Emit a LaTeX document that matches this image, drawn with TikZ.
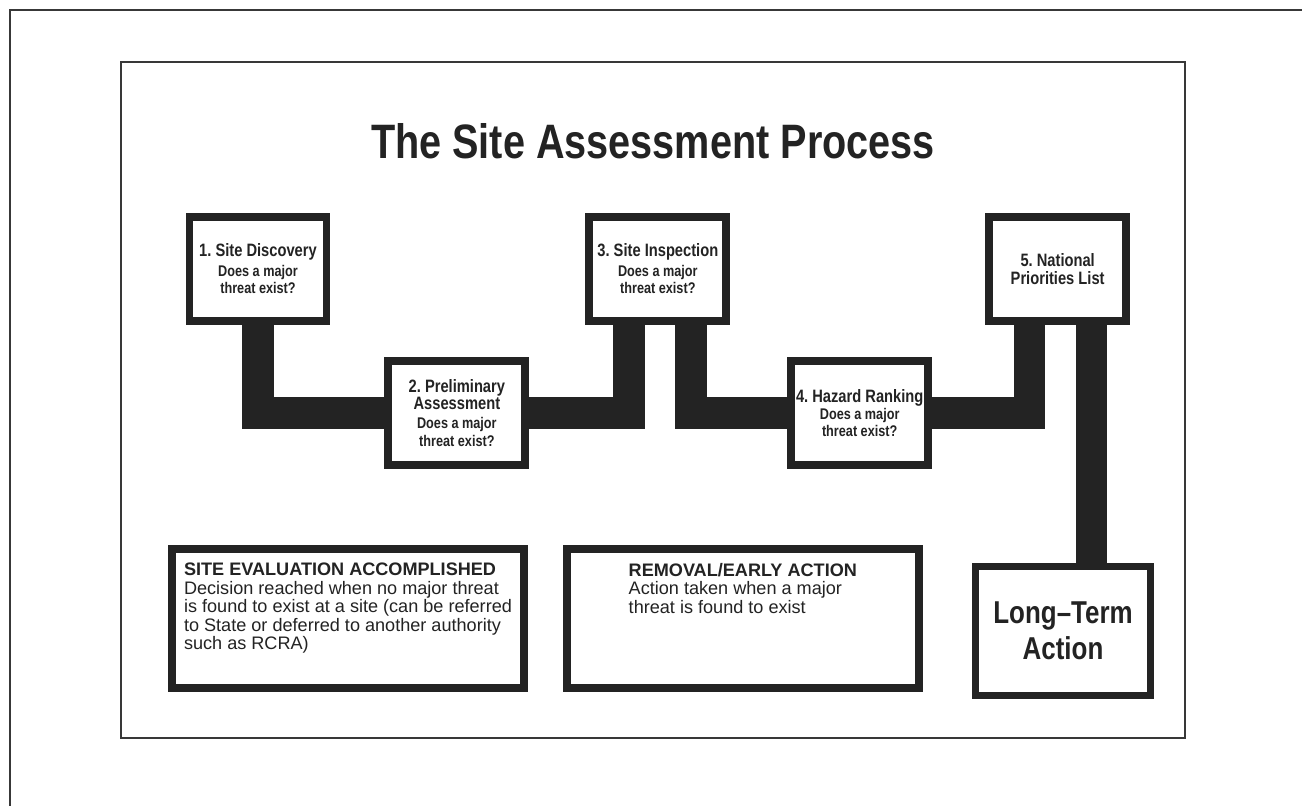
\documentclass[tikz,border=0pt]{standalone}
\usepackage{fontspec}
\setmainfont{Liberation Sans}
\newfontfamily\narrowfont[FakeStretch=0.82]{Liberation Sans}
\usepackage{xcolor}
\definecolor{ink}{HTML}{232323}
\definecolor{frame}{HTML}{383838}
\usetikzlibrary{positioning}

\newcommand\steptitle{\fontsize{10.2}{11}\selectfont}
\frenchspacing

\begin{document}
\begin{tikzpicture}[x=0.02cm, y=-0.02cm, node distance=1cm,
                stepbox/.style={rectangle, draw=ink, line width=4.5pt, fill=white, minimum width=2.74cm, minimum height=2.08cm, inner sep=1pt, align=center, text=ink, font=\narrowfont\bfseries\fontsize{8.8}{9.8}\selectfont},
                bigbox/.style={stepbox, minimum width=3.5cm, minimum height=2.58cm, font=\narrowfont\bfseries\fontsize{18}{20.5}\selectfont},
                notebox/.style={rectangle, draw=ink, line width=4.5pt, fill=white, inner xsep=0.04cm, inner ysep=0.28cm, text=ink, font=\fontsize{10.3}{10.2}\selectfont},
                bar/.style={draw=ink, line width=18pt},
                rule/.style={draw=frame, line width=1.1pt}
            ]

            \useasboundingbox (0,0) rectangle (1302,806);

            % page edge and panel frame
            \draw[rule] (1302,10) -- (10,10) -- (10,806);
            \draw[rule] (121,62) rectangle (1185,738);

            \node (title) at (653,158) [anchor=base, text=ink, font=\narrowfont\bfseries\fontsize{27.5}{30}\selectfont] {The Site Assessment Process};

            % the five steps
            \node (discovery) at (258,269) [stepbox] {{\steptitle 1. Site Discovery}\\[1.5pt] Does a major\\ threat exist?};
            \node (prelim) [stepbox, below right=0.64cm and 1.08cm of discovery] {{\steptitle 2. Preliminary}\\ {\steptitle Assessment}\\[1pt] Does a major\\ threat exist?};
            \node (inspection) [stepbox, right=5.1cm of discovery] {{\steptitle 3. Site Inspection}\\[1.5pt] Does a major\\ threat exist?};
            \node (ranking) [stepbox, right=5.16cm of prelim] {{\steptitle 4. Hazard Ranking}\\ Does a major\\ threat exist?};
            \node (npl) [stepbox, right=5.1cm of inspection] {{\steptitle 5. National}\\ {\steptitle Priorities List}};

            \node (longterm) at (1063,631) [bigbox] {Long–Term\\ Action};

            % outcomes
            \node (evaluation) at (348,618.5) [notebox] {\parbox[c][2.22cm][t]{6.96cm}{\centering
                \begin{tabular}{@{}l@{}}
                    \textbf{SITE EVALUATION ACCOMPLISHED}\\
                    Decision reached when no major threat\\
                    is found to exist at a site (can be referred\\
                    to State or deferred to another authority\\
                    such as RCRA)
                \end{tabular}}};
            \node (removal) [notebox, right=0.7cm of evaluation] {\parbox[c][2.22cm][t]{6.96cm}{\centering
                \begin{tabular}{@{}l@{}}
                    \textbf{REMOVAL/EARLY ACTION}\\
                    Action taken when a major\\
                    threat is found to exist
                \end{tabular}}};

            % heavy connectors
            \draw[bar] (discovery.south) |- (prelim.west);
            \draw[bar] (prelim.east) -| ([xshift=-0.58cm]inspection.south);
            \draw[bar] ([xshift=0.66cm]inspection.south) |- (ranking.west);
            \draw[bar] (ranking.east) -| ([xshift=-0.56cm]npl.south);
            \coordinate (drop) at ([xshift=0.68cm]npl.south);
            \draw[bar] (drop) -- (drop |- longterm.north);
        \end{tikzpicture}
\end{document}
